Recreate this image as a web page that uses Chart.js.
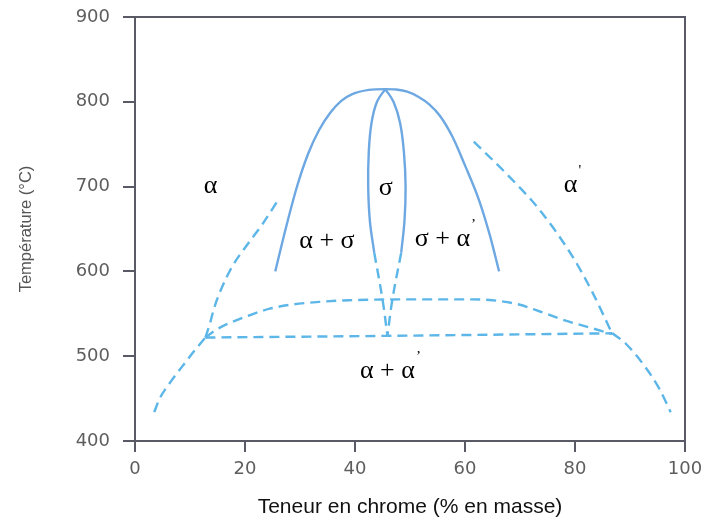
<!DOCTYPE html>
<html><head><meta charset="utf-8">
<script src="https://cdn.jsdelivr.net/npm/chart.js@4.4.1/dist/chart.umd.min.js"></script>
<style>html,body{margin:0;padding:0;background:#fff}#wrap{width:705px;height:519px}</style>
</head><body><div id="wrap"><canvas id="c" width="705" height="519"></canvas></div>
<script>
// X ticks / Y ticks
const xTicks = [0, 20, 40, 60, 80, 100];
const yTicks = [400, 500, 600, 700, 800, 900];

// Solid curves
const domeX = [25.5, 27.5, 29.5, 31.5, 33.5, 35.5, 37.5, 39.5, 42.5, 45.5, 47.5, 49.5, 51.5, 53.5, 55.5, 57.7, 60.0, 62.5, 64.5, 66.2];
const domeY = [600, 653, 701, 739, 767, 787, 801, 809, 814, 815, 814.5, 812, 806, 797, 783, 759, 725, 685, 643, 600];
const lensLeftX = [45.5, 44.0, 43.0, 42.5, 42.4, 42.7, 43.5];
const lensLeftY = [815, 800, 775, 740, 700, 660, 622];
const lensRightX = [45.5, 47.0, 48.2, 48.9, 49.2, 49.0, 48.4];
const lensRightY = [815, 800, 775, 740, 700, 660, 622];

// Dashed curves
const lensDashLX = [43.5, 45.0, 45.9];
const lensDashLY = [622, 567, 524];
const lensDashRX = [48.4, 46.8, 45.9];
const lensDashRY = [622, 567, 524];
const alphaUpX = [12.8, 13.6, 14.4, 15.6, 17.7, 20.7, 23.1, 25.9];
const alphaUpY = [522, 538, 557, 578, 606, 634, 655, 683];
const alphaLowX = [3.5, 4.4, 6.5, 8.6, 11.0, 12.8];
const alphaLowY = [434, 449, 470, 488, 508, 522];
const eutectX = [12.8, 46, 86.8];
const eutectY = [522, 524, 527];
const gapX = [12.8, 14.7, 17.5, 20.7, 24.5, 28.6, 33.5, 38.9, 50, 61.3, 65.0, 69.8, 73.5, 78.3, 83.1, 86.8];
const gapY = [522, 531, 540, 548, 556, 561, 564, 566, 567, 567, 566, 561, 553, 542, 533, 526];
const primeUpX = [61.6, 67.4, 73.5, 79.5, 83.2, 86.8];
const primeUpY = [753, 716, 673, 618, 575, 526];
const primeLowX = [86.8, 89.2, 92.8, 95.3, 97.4];
const primeLowY = [527, 515, 487, 462, 434];

// Phase labels
const labelText = ['α', 'σ', 'α', 'α + σ', 'σ + α', 'α + α'];
const labelPrime = ['', '', "'", '', '’', '’'];
const labelX = [13.75, 45.6, 79.2, 34.9, 55.9, 45.9];
const labelY = [700, 698.5, 702, 635.6, 637.6, 482.7];

const SOLID = '#6ea8e2';
const DASH = '#5cb6e8';
const pts = (xs, ys) => xs.map((x, i) => ({x, y: ys[i]}));
function ds(xs, ys, dashed, mono) {
  return {data: pts(xs, ys), showLine: true, borderColor: dashed ? DASH : SOLID,
    borderWidth: 2.4, borderDash: dashed ? [10, 6] : [], pointRadius: 0,
    tension: mono ? 0 : 0.4, cubicInterpolationMode: mono ? 'monotone' : 'default',
    fill: false, borderCapStyle: 'butt'};
}

const labelPlugin = {
  id: 'labels',
  afterDatasetsDraw(chart) {
    const {ctx, scales: {x, y}} = chart;
    ctx.save();
    ctx.fillStyle = '#000';
    ctx.textBaseline = 'middle';
    ctx.textAlign = 'center';
    for (let i = 0; i < labelText.length; i++) {
      const px = x.getPixelForValue(labelX[i]);
      const py = y.getPixelForValue(labelY[i]);
      ctx.font = '26px "Liberation Serif", serif';
      ctx.fillText(labelText[i], px, py);
      if (labelPrime[i]) {
        const w = ctx.measureText(labelText[i]).width;
        ctx.font = '15px "Liberation Serif", serif';
        ctx.textAlign = 'left';
        ctx.fillText(labelPrime[i], px + w / 2 + 1, py - 14);
        ctx.textAlign = 'center';
      }
    }
    ctx.restore();
  }
};
const framePlugin = {
  id: 'frame',
  afterDraw(chart) {
    const {ctx, chartArea: a} = chart;
    ctx.save();
    ctx.strokeStyle = '#5a5a66';
    ctx.lineWidth = 2;
    ctx.beginPath();
    ctx.moveTo(a.left, a.top);
    ctx.lineTo(a.right, a.top);
    ctx.lineTo(a.right, a.bottom);
    ctx.stroke();
    ctx.restore();
  }
};

new Chart(document.getElementById('c'), {
  type: 'scatter',
  data: {datasets: [
    ds(domeX, domeY, false, true), ds(lensLeftX, lensLeftY, false, false), ds(lensRightX, lensRightY, false, false),
    ds(lensDashLX, lensDashLY, true, false), ds(lensDashRX, lensDashRY, true, false),
    ds(alphaUpX, alphaUpY, true, true), ds(alphaLowX, alphaLowY, true, true),
    ds(eutectX, eutectY, true, true), ds(gapX, gapY, true, true),
    ds(primeUpX, primeUpY, true, true), ds(primeLowX, primeLowY, true, true)
  ]},
  options: {
    responsive: false, animation: false,
    layout: {padding: {left: 0, right: 20, top: 17, bottom: 0}},
    plugins: {legend: {display: false}, tooltip: {enabled: false}},
    scales: {
      x: {type: 'linear', min: 0, max: 100,
        afterBuildTicks: s => { s.ticks = xTicks.map(v => ({value: v})); },
        afterFit: s => { s.height = 78; s.paddingLeft = 0; s.paddingRight = 0; },
        grid: {drawOnChartArea: false, drawTicks: true, tickLength: 11, color: '#5a5a66', lineWidth: 2},
        border: {display: true, color: '#5a5a66', width: 2},
        ticks: {color: '#5e5e5e', font: {family: '"DejaVu Sans"', size: 18}, padding: 7, maxRotation: 0},
        title: {display: true, text: 'Teneur en chrome (% en masse)', color: '#111',
          font: {family: '"Liberation Sans", Arial', size: 21, lineHeight: 1}, padding: {top: 0, bottom: 1}}
      },
      y: {type: 'linear', min: 400, max: 900,
        afterBuildTicks: s => { s.ticks = yTicks.map(v => ({value: v})); },
        afterFit: s => { s.width = 135; s.paddingTop = 0; s.paddingBottom = 0; },
        grid: {drawOnChartArea: false, drawTicks: true, tickLength: 12, color: '#5a5a66', lineWidth: 2},
        border: {display: true, color: '#5a5a66', width: 2},
        ticks: {color: '#5e5e5e', font: {family: '"DejaVu Sans"', size: 18}, padding: 13},
        title: {display: true, text: 'Température (°C)', color: '#555',
          font: {family: '"Liberation Sans", Arial', size: 16.5, lineHeight: 1}, padding: {top: 18, bottom: 0}}
      }
    }
  },
  plugins: [labelPlugin, framePlugin]
});
</script></body></html>
